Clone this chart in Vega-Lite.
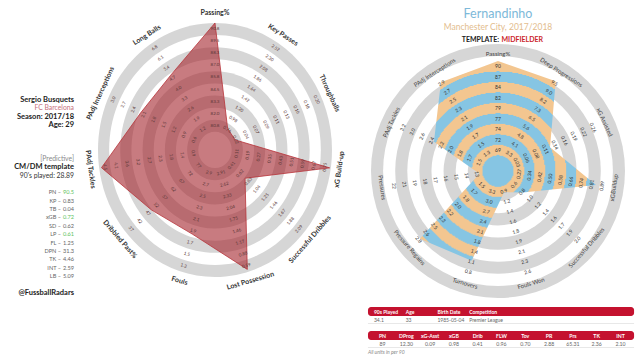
{
  "$schema": "https://vega.github.io/schema/vega-lite/v6.json",
  "background": "white",
  "padding": 0,
  "spacing": 0,
  "bounds": "flush",
  "config": {"view": {"stroke": null}, "font": "Lato"},
  "datasets": {
    "info": [
      {"ln": 0, "t": "Sergio Busquets", "kind": "head"},
      {"ln": 1, "t": "FC Barcelona", "kind": "club"},
      {"ln": 2, "t": "Season: 2017/18", "kind": "head"},
      {"ln": 3, "t": "Age: 29", "kind": "head"},
      {"ln": 7, "t": "[Predictive]", "kind": "note"},
      {"ln": 8, "t": "CM/DM template", "kind": "head"},
      {"ln": 9, "t": "90's played: 28.89", "kind": "text"},
      {"ln": 23, "t": "@FussballRadars", "kind": "head"}
    ],
    "stats": [
      {"ln": 11, "lab": "PN –", "val": "90.5", "hi": "y"},
      {"ln": 12, "lab": "KP –", "val": "0.83", "hi": "n"},
      {"ln": 13, "lab": "TB –", "val": "0.04", "hi": "n"},
      {"ln": 14, "lab": "xGB –", "val": "0.72", "hi": "y"},
      {"ln": 15, "lab": "SD –", "val": "0.62", "hi": "n"},
      {"ln": 16, "lab": "LP –", "val": "0.61", "hi": "y"},
      {"ln": 17, "lab": "FL –", "val": "1.25", "hi": "n"},
      {"ln": 18, "lab": "DPN –", "val": "31.3", "hi": "n"},
      {"ln": 19, "lab": "TK –", "val": "4.46", "hi": "n"},
      {"ln": 20, "lab": "INT –", "val": "2.59", "hi": "n"},
      {"ln": 21, "lab": "LB –", "val": "5.09", "hi": "n"}
    ],
    "rings": [{"k": 9}, {"k": 8}, {"k": 7}, {"k": 6}, {"k": 5}, {"k": 4}, {"k": 3}, {"k": 2}, {"k": 1}, {"k": 0}],
    "busq": [
      {"a": 0, "name": "Passing%", "v": 1.0, "ticks": ["80.8","82.0","83.3","84.5","85.8","87.0","88.3","89.5","90.8"]},
      {"a": 1, "name": "Key Passes", "v": 0.2, "ticks": ["0.76","0.98","1.20","1.42","1.64","1.86","2.08","2.30","2.52"]},
      {"a": 2, "name": "Throughballs", "v": 0.19, "ticks": ["0.02","0.04","0.07","0.09","0.11","0.13","0.16","0.18","0.20"]},
      {"a": 3, "name": "xG Build-up", "v": 0.99, "ticks": ["0.11","0.19","0.27","0.35","0.43","0.51","0.59","0.67","0.75"]},
      {"a": 4, "name": "Successful Dribbles", "v": 0.34, "ticks": ["0.41","0.62","0.83","1.04","1.25","1.46","1.67","1.88","2.09"]},
      {"a": 5, "name": "Lost Possession", "v": 0.98, "ticks": ["2.91","2.62","2.33","2.04","1.75","1.46","1.17","0.88","0.59"]},
      {"a": 6, "name": "Fouls", "v": 0.69, "ticks": ["2.9","2.7","2.5","2.3","2.1","1.9","1.7","1.5","1.3"]},
      {"a": 7, "name": "Dribbled Past%", "v": 0.72, "ticks": ["77","72","67","62","57","52","47","42","37"]},
      {"a": 8, "name": "PAdj Tackles", "v": 0.98, "ticks": ["0.9","1.4","1.8","2.3","2.7","3.2","3.6","4.1","4.5"]},
      {"a": 9, "name": "PAdj Interceptions", "v": 0.7, "ticks": ["0.6","0.9","1.2","1.5","1.8","2.1","2.4","2.7","3.0"]},
      {"a": 10, "name": "Long Balls", "v": 0.7, "ticks": ["1.2","1.9","2.6","3.3","4.0","4.7","5.4","6.1","6.8"]}
    ],
    "fern": [
      {"a": 0, "name": "Passing%", "v": 1.0, "ticks": ["69","72","74","77","79","82","84","87","90"]},
      {"a": 1, "name": "Deep Progressions", "v": 0.97, "ticks": ["3.3","4.1","4.8","5.6","6.5","7.3","8.2","9.0","9.5"]},
      {"a": 2, "name": "xG Assisted", "v": 0.52, "ticks": ["0.03","0.06","0.08","0.11","0.14","0.16","0.19","0.22","0.26"]},
      {"a": 3, "name": "xGBuildup", "v": 0.9, "ticks": ["0.27","0.34","0.42","0.50","0.58","0.66","0.74","0.81","0.89"]},
      {"a": 4, "name": "Successful Dribbles", "v": 0.3, "ticks": ["0.6","0.8","1.0","1.2","1.4","1.6","1.7","1.9","2.0"]},
      {"a": 5, "name": "Fouls Won", "v": 0.2, "ticks": ["0.9","1.2","1.4","1.6","1.8","1.9","2.1","2.3","2.6"]},
      {"a": 6, "name": "Turnovers", "v": 0.85, "ticks": ["3.3","3.0","2.7","2.4","2.1","1.8","1.4","1.1","0.8"]},
      {"a": 7, "name": "Pressure Regains", "v": 0.94, "ticks": ["1.5","1.7","1.8","2.0","2.2","2.3","2.5","2.6","2.8"]},
      {"a": 8, "name": "Pressures", "v": 0.17, "ticks": ["13","14","15","16","17","18","19","21","22"]},
      {"a": 9, "name": "PAdj Tackles", "v": 0.64, "ticks": ["1.5","1.7","1.8","2.0","2.2","2.4","2.6","3.0","3.2"]},
      {"a": 10, "name": "PAdj Interceptions", "v": 0.96, "ticks": ["1.3","1.5","1.7","1.9","2.1","2.3","2.5","2.7","2.9"]}
    ],
    "titles": [
      {"ln": 0, "t": "Fernandinho", "p": "name"},
      {"ln": 1, "t": "Manchester City, 2017/2018", "p": "club"},
      {"ln": 2, "t": "TEMPLATE:", "p": "tl"},
      {"ln": 2, "t": "MIDFIELDER", "p": "tr"}
    ],
    "t1": [
      {"c": 0, "h": "90s Played", "v": "34.1"},
      {"c": 1, "h": "Age", "v": "33"},
      {"c": 2, "h": "Birth Date", "v": "1985-05-04"},
      {"c": 3, "h": "Competition", "v": "Premier League"}
    ],
    "t2": [
      {"c": 0, "h": "PN", "v": "89"},
      {"c": 1, "h": "DProg", "v": "12.30"},
      {"c": 2, "h": "xG-Asst", "v": "0.09"},
      {"c": 3, "h": "xGB", "v": "0.98"},
      {"c": 4, "h": "Drib", "v": "0.41"},
      {"c": 5, "h": "FLW", "v": "0.96"},
      {"c": 6, "h": "Tov", "v": "0.70"},
      {"c": 7, "h": "PR", "v": "2.88"},
      {"c": 8, "h": "Prs", "v": "65.31"},
      {"c": 9, "h": "TK", "v": "2.36"},
      {"c": 10, "h": "INT", "v": "2.10"}
    ],
    "tbars": [{"slot": 0}, {"slot": 3}],
    "tlines": [{"after": 1}, {"after": 4}],
    "foot": [{"t": "All units in per 90"}]
  },
  "hconcat": [
    {
      "width": 74,
      "height": 359,
      "resolve": {"scale": {"color": "independent"}},
      "layer": [
        {
          "data": {"name": "info"},
          "transform": [{"filter": "datum.kind == 'head'"}],
          "mark": {"type": "text", "align": "right", "baseline": "middle", "fontWeight": "bold", "fontSize": 7.5, "color": "#222222"},
          "encoding": {
            "x": {"value": "width"},
            "y": {"field": "ln", "type": "quantitative", "scale": {"domain": [-11.92, 30.87], "reverse": true, "nice": false, "zero": false}, "axis": null},
            "text": {"field": "t"}
          }
        },
        {
          "data": {"name": "info"},
          "transform": [{"filter": "datum.kind != 'head'"}],
          "mark": {"type": "text", "align": "right", "baseline": "middle", "fontSize": 6.8},
          "encoding": {
            "x": {"value": "width"},
            "y": {"field": "ln", "type": "quantitative", "scale": {"domain": [-11.92, 30.87], "reverse": true, "nice": false, "zero": false}, "axis": null},
            "text": {"field": "t"},
            "color": {"field": "kind", "type": "nominal", "scale": {"domain": ["club", "note", "text"], "range": ["#c7707c", "#8a8a8a", "#333333"]}, "legend": null}
          }
        },
        {
          "data": {"name": "stats"},
          "mark": {"type": "text", "align": "right", "baseline": "middle", "fontSize": 5.6, "dx": -13, "color": "#666666"},
          "encoding": {
            "x": {"value": "width"},
            "y": {"field": "ln", "type": "quantitative", "scale": {"domain": [-11.92, 30.87], "reverse": true, "nice": false, "zero": false}, "axis": null},
            "text": {"field": "lab"}
          }
        },
        {
          "data": {"name": "stats"},
          "mark": {"type": "text", "align": "right", "baseline": "middle", "fontSize": 5.6},
          "encoding": {
            "x": {"value": "width"},
            "y": {"field": "ln", "type": "quantitative", "scale": {"domain": [-11.92, 30.87], "reverse": true, "nice": false, "zero": false}, "axis": null},
            "text": {"field": "val"},
            "color": {"field": "hi", "type": "nominal", "scale": {"domain": ["y", "n"], "range": ["#5cc35c", "#666666"]}, "legend": null}
          }
        }
      ]
    },
    {
      "width": 258,
      "height": 359,
      "layer": [
        {
          "data": {"name": "rings"},
          "transform": [
            {"calculate": "(1.5 + datum.k) / 10.5", "as": "rr"},
            {"calculate": "datum.k % 2 == 1 ? 'g' : 'w'", "as": "band"}
          ],
          "mark": {"type": "point", "filled": true, "opacity": 1, "strokeWidth": 0, "shape": "M0,-1C0.5088,-1,0.9213,-0.5523,0.9213,0C0.9213,0.5523,0.5088,1,0,1C-0.5088,1,-0.9213,0.5523,-0.9213,0C-0.9213,-0.5523,-0.5088,-1,0,-1Z"},
          "encoding": {
            "x": {"datum": 0, "type": "quantitative", "scale": {"domain": [-1.205, 1], "nice": false, "zero": false}, "axis": null},
            "y": {"datum": 0, "type": "quantitative", "scale": {"domain": [-1.646, 1.181], "nice": false, "zero": false}, "axis": null},
            "size": {"field": "rr", "type": "quantitative", "scale": {"type": "pow", "exponent": 2, "domain": [0, 1], "range": [0, 64516]}, "legend": null},
            "color": {"field": "band", "type": "nominal", "scale": {"domain": ["g", "w"], "range": ["#d6d6d6", "#ffffff"]}, "legend": null},
            "order": {"field": "k", "type": "quantitative", "sort": "descending"}
          }
        },
        {
          "data": {"name": "busq"},
          "transform": [
            {"calculate": "datum.a * 2 * PI / 11", "as": "th"},
            {"calculate": "datum.v * sin(datum.th)", "as": "px"},
            {"calculate": "datum.v * cos(datum.th)", "as": "py"}
          ],
          "mark": {"type": "line", "interpolate": "linear-closed", "fill": "#a3232b", "fillOpacity": 0.6, "stroke": "#b8343a", "strokeWidth": 0.8},
          "encoding": {
            "x": {"field": "px", "type": "quantitative", "scale": {"domain": [-1.205, 1], "nice": false, "zero": false}, "axis": null},
            "y": {"field": "py", "type": "quantitative", "scale": {"domain": [-1.646, 1.181], "nice": false, "zero": false}, "axis": null},
            "order": {"field": "a", "type": "quantitative"}
          }
        },
        {
          "data": {"name": "busq"},
          "transform": [
            {"flatten": ["ticks"], "as": ["tk"]},
            {"window": [{"op": "row_number", "as": "k"}], "groupby": ["a"]},
            {"calculate": "datum.a * 2 * PI / 11", "as": "th"},
            {"calculate": "(datum.k + 1) / 10.5", "as": "r"},
            {"calculate": "datum.r * sin(datum.th)", "as": "tx"},
            {"calculate": "datum.r * cos(datum.th)", "as": "ty"},
            {"calculate": "datum.a * 360 / 11", "as": "deg"},
            {"calculate": "datum.deg <= 90 ? datum.deg : (datum.deg < 270 ? datum.deg - 180 : datum.deg - 360)", "as": "ang"}
          ],
          "mark": {"type": "text", "fontSize": 4.5, "color": "#5a3636", "baseline": "middle", "align": "center"},
          "encoding": {
            "x": {"field": "tx", "type": "quantitative", "scale": {"domain": [-1.205, 1], "nice": false, "zero": false}, "axis": null},
            "y": {"field": "ty", "type": "quantitative", "scale": {"domain": [-1.646, 1.181], "nice": false, "zero": false}, "axis": null},
            "text": {"field": "tk"},
            "angle": {"field": "ang", "type": "quantitative", "scale": null}
          }
        },
        {
          "data": {"name": "busq"},
          "transform": [
            {"calculate": "datum.a * 2 * PI / 11", "as": "th"},
            {"calculate": "1.075 * sin(datum.th)", "as": "lx"},
            {"calculate": "1.075 * cos(datum.th)", "as": "ly"},
            {"calculate": "datum.a * 360 / 11", "as": "deg"},
            {"calculate": "datum.deg <= 90 ? datum.deg : (datum.deg < 270 ? datum.deg - 180 : datum.deg - 360)", "as": "ang"}
          ],
          "mark": {"type": "text", "fontSize": 7, "fontWeight": "bold", "color": "#333333", "baseline": "middle", "align": "center"},
          "encoding": {
            "x": {"field": "lx", "type": "quantitative", "scale": {"domain": [-1.205, 1], "nice": false, "zero": false}, "axis": null},
            "y": {"field": "ly", "type": "quantitative", "scale": {"domain": [-1.646, 1.181], "nice": false, "zero": false}, "axis": null},
            "text": {"field": "name"},
            "angle": {"field": "ang", "type": "quantitative", "scale": null}
          }
        }
      ]
    },
    {
      "spacing": 0,
      "bounds": "flush",
      "vconcat": [
        {
          "width": 308,
          "height": 54,
          "layer": [
            {
              "data": {"name": "titles"},
              "transform": [{"filter": "datum.p == 'name'"}],
              "mark": {"type": "text", "fontSize": 12.5, "color": "#7db9d9", "baseline": "middle", "align": "center"},
              "encoding": {
                "x": {"datum": 0, "type": "quantitative", "scale": {"domain": [-1.50909, 1.29091], "nice": false, "zero": false}, "axis": null},
                "y": {"field": "ln", "type": "quantitative", "scale": {"domain": [-1.077, 3.077], "reverse": true, "nice": false, "zero": false}, "axis": null},
                "text": {"field": "t"}
              }
            },
            {
              "data": {"name": "titles"},
              "transform": [{"filter": "datum.p == 'club'"}],
              "mark": {"type": "text", "fontSize": 8.5, "color": "#e3bd8e", "baseline": "middle", "align": "center"},
              "encoding": {
                "x": {"datum": 0, "type": "quantitative", "scale": {"domain": [-1.50909, 1.29091], "nice": false, "zero": false}, "axis": null},
                "y": {"field": "ln", "type": "quantitative", "scale": {"domain": [-1.077, 3.077], "reverse": true, "nice": false, "zero": false}, "axis": null},
                "text": {"field": "t"}
              }
            },
            {
              "data": {"name": "titles"},
              "transform": [{"filter": "datum.p == 'tl'"}],
              "mark": {"type": "text", "fontSize": 7, "fontWeight": "bold", "color": "#222222", "baseline": "middle", "align": "right", "dx": 1},
              "encoding": {
                "x": {"datum": 0, "type": "quantitative", "scale": {"domain": [-1.50909, 1.29091], "nice": false, "zero": false}, "axis": null},
                "y": {"field": "ln", "type": "quantitative", "scale": {"domain": [-1.077, 3.077], "reverse": true, "nice": false, "zero": false}, "axis": null},
                "text": {"field": "t"}
              }
            },
            {
              "data": {"name": "titles"},
              "transform": [{"filter": "datum.p == 'tr'"}],
              "mark": {"type": "text", "fontSize": 7, "fontWeight": "bold", "color": "#cc1f2d", "baseline": "middle", "align": "left", "dx": 3.5},
              "encoding": {
                "x": {"datum": 0, "type": "quantitative", "scale": {"domain": [-1.50909, 1.29091], "nice": false, "zero": false}, "axis": null},
                "y": {"field": "ln", "type": "quantitative", "scale": {"domain": [-1.077, 3.077], "reverse": true, "nice": false, "zero": false}, "axis": null},
                "text": {"field": "t"}
              }
            }
          ]
        },
        {
          "width": 308,
          "height": 246,
          "layer": [
            {
              "data": {"name": "rings"},
              "transform": [
                {"calculate": "(1.5 + datum.k) / 10.5", "as": "rr"},
                {"calculate": "datum.k % 2 == 1 ? 'g' : 'w'", "as": "band"}
              ],
              "mark": {"type": "point", "filled": true, "opacity": 1, "strokeWidth": 0, "shape": "circle"},
              "encoding": {
                "x": {"datum": 0, "type": "quantitative", "scale": {"domain": [-1.50909, 1.29091], "nice": false, "zero": false}, "axis": null},
                "y": {"datum": 0, "type": "quantitative", "scale": {"domain": [-1.17273, 1.06364], "nice": false, "zero": false}, "axis": null},
                "size": {"field": "rr", "type": "quantitative", "scale": {"type": "pow", "exponent": 2, "domain": [0, 1], "range": [0, 48400]}, "legend": null},
                "color": {"field": "band", "type": "nominal", "scale": {"domain": ["g", "w"], "range": ["#dcdcdc", "#ffffff"]}, "legend": null},
                "order": {"field": "k", "type": "quantitative", "sort": "descending"}
              }
            },
            {
              "data": {"name": "fern"},
              "transform": [
                {"calculate": "datum.a * 2 * PI / 11", "as": "th"},
                {"calculate": "datum.v * sin(datum.th)", "as": "px"},
                {"calculate": "datum.v * cos(datum.th)", "as": "py"}
              ],
              "mark": {
                "type": "line",
                "interpolate": "linear-closed",
                "strokeWidth": 0,
                "fill": {
                  "gradient": "radial",
                  "x1": 0.4503, "y1": 0.5508, "r1": 0,
                  "x2": 0.4503, "y2": 0.5508, "r2": 0.5508,
                  "stops": [
                    {"offset": 0, "color": "#86c5e3"},
                    {"offset": 0.1429, "color": "#86c5e3"},
                    {"offset": 0.1429, "color": "#f3c690"},
                    {"offset": 0.2381, "color": "#f3c690"},
                    {"offset": 0.2381, "color": "#86c5e3"},
                    {"offset": 0.3333, "color": "#86c5e3"},
                    {"offset": 0.3333, "color": "#f3c690"},
                    {"offset": 0.4286, "color": "#f3c690"},
                    {"offset": 0.4286, "color": "#86c5e3"},
                    {"offset": 0.5238, "color": "#86c5e3"},
                    {"offset": 0.5238, "color": "#f3c690"},
                    {"offset": 0.619, "color": "#f3c690"},
                    {"offset": 0.619, "color": "#86c5e3"},
                    {"offset": 0.7143, "color": "#86c5e3"},
                    {"offset": 0.7143, "color": "#f3c690"},
                    {"offset": 0.8095, "color": "#f3c690"},
                    {"offset": 0.8095, "color": "#86c5e3"},
                    {"offset": 0.9048, "color": "#86c5e3"},
                    {"offset": 0.9048, "color": "#f3c690"},
                    {"offset": 1, "color": "#f3c690"}
                  ]
                }
              },
              "encoding": {
                "x": {"field": "px", "type": "quantitative", "scale": {"domain": [-1.50909, 1.29091], "nice": false, "zero": false}, "axis": null},
                "y": {"field": "py", "type": "quantitative", "scale": {"domain": [-1.17273, 1.06364], "nice": false, "zero": false}, "axis": null},
                "order": {"field": "a", "type": "quantitative"}
              }
            },
            {
              "data": {"name": "fern"},
              "transform": [
                {"flatten": ["ticks"], "as": ["tk"]},
                {"window": [{"op": "row_number", "as": "k"}], "groupby": ["a"]},
                {"calculate": "datum.a * 2 * PI / 11", "as": "th"},
                {"calculate": "(datum.k + 1) / 10.5", "as": "r"},
                {"calculate": "datum.r * sin(datum.th)", "as": "tx"},
                {"calculate": "datum.r * cos(datum.th)", "as": "ty"},
                {"calculate": "datum.a * 360 / 11", "as": "deg"},
                {"calculate": "datum.deg <= 90 ? datum.deg : (datum.deg < 270 ? datum.deg - 180 : datum.deg - 360)", "as": "ang"}
              ],
              "mark": {"type": "text", "fontSize": 5, "color": "#333333", "baseline": "middle", "align": "center"},
              "encoding": {
                "x": {"field": "tx", "type": "quantitative", "scale": {"domain": [-1.50909, 1.29091], "nice": false, "zero": false}, "axis": null},
                "y": {"field": "ty", "type": "quantitative", "scale": {"domain": [-1.17273, 1.06364], "nice": false, "zero": false}, "axis": null},
                "text": {"field": "tk"},
                "angle": {"field": "ang", "type": "quantitative", "scale": null}
              }
            },
            {
              "data": {"name": "fern"},
              "transform": [
                {"calculate": "datum.a * 2 * PI / 11", "as": "th"},
                {"calculate": "1.065 * sin(datum.th)", "as": "lx"},
                {"calculate": "1.065 * cos(datum.th)", "as": "ly"},
                {"calculate": "datum.a * 360 / 11", "as": "deg"},
                {"calculate": "datum.deg <= 90 ? datum.deg : (datum.deg < 270 ? datum.deg - 180 : datum.deg - 360)", "as": "ang"}
              ],
              "mark": {"type": "text", "fontSize": 6, "color": "#444444", "baseline": "middle", "align": "center"},
              "encoding": {
                "x": {"field": "lx", "type": "quantitative", "scale": {"domain": [-1.50909, 1.29091], "nice": false, "zero": false}, "axis": null},
                "y": {"field": "ly", "type": "quantitative", "scale": {"domain": [-1.17273, 1.06364], "nice": false, "zero": false}, "axis": null},
                "text": {"field": "name"},
                "angle": {"field": "ang", "type": "quantitative", "scale": null}
              }
            }
          ]
        },
        {
          "width": 308,
          "height": 59,
          "resolve": {"scale": {"x": "independent"}},
          "layer": [
            {
              "data": {"name": "tbars"},
              "transform": [
                {"calculate": "datum.slot - 0.56", "as": "ya"},
                {"calculate": "datum.slot + 0.56", "as": "yb"}
              ],
              "mark": {"type": "rect", "color": "#c4122f", "cornerRadius": 3},
              "encoding": {
                "x": {"datum": -0.61, "type": "quantitative", "scale": {"domain": [-2.1218, 10.8193], "nice": false, "zero": false}, "axis": null},
                "x2": {"datum": 10.57},
                "y": {"field": "ya", "type": "quantitative", "scale": {"domain": [-1.4375, 5.9375], "reverse": true, "nice": false, "zero": false}, "axis": null},
                "y2": {"field": "yb"}
              }
            },
            {
              "data": {"name": "tlines"},
              "transform": [{"calculate": "datum.after + 0.5", "as": "yl"}],
              "mark": {"type": "rule", "color": "#e2e2e2", "strokeWidth": 0.8},
              "encoding": {
                "x": {"datum": -0.61, "type": "quantitative", "scale": {"domain": [-2.1218, 10.8193], "nice": false, "zero": false}, "axis": null},
                "x2": {"datum": 10.57},
                "y": {"field": "yl", "type": "quantitative", "scale": {"domain": [-1.4375, 5.9375], "reverse": true, "nice": false, "zero": false}, "axis": null}
              }
            },
            {
              "data": {"name": "t2"},
              "mark": {"type": "text", "fontSize": 5.2, "fontWeight": "bold", "color": "#ffffff", "baseline": "middle", "align": "center"},
              "encoding": {
                "x": {"field": "c", "type": "quantitative", "scale": {"domain": [-2.1218, 10.8193], "nice": false, "zero": false}, "axis": null},
                "y": {"datum": 3, "type": "quantitative", "scale": {"domain": [-1.4375, 5.9375], "reverse": true, "nice": false, "zero": false}, "axis": null},
                "text": {"field": "h"}
              }
            },
            {
              "data": {"name": "t2"},
              "mark": {"type": "text", "fontSize": 5.2, "color": "#666666", "baseline": "middle", "align": "center"},
              "encoding": {
                "x": {"field": "c", "type": "quantitative", "scale": {"domain": [-2.1218, 10.8193], "nice": false, "zero": false}, "axis": null},
                "y": {"datum": 4, "type": "quantitative", "scale": {"domain": [-1.4375, 5.9375], "reverse": true, "nice": false, "zero": false}, "axis": null},
                "text": {"field": "v"}
              }
            },
            {
              "data": {"name": "t1"},
              "mark": {"type": "text", "fontSize": 5, "fontWeight": "bold", "color": "#ffffff", "baseline": "middle", "align": "left"},
              "encoding": {
                "x": {"field": "c", "type": "quantitative", "scale": {"domain": [-1.32, 8.38], "nice": false, "zero": false}, "axis": null},
                "y": {"datum": 0, "type": "quantitative", "scale": {"domain": [-1.4375, 5.9375], "reverse": true, "nice": false, "zero": false}, "axis": null},
                "text": {"field": "h"}
              }
            },
            {
              "data": {"name": "t1"},
              "mark": {"type": "text", "fontSize": 5, "color": "#666666", "baseline": "middle", "align": "left"},
              "encoding": {
                "x": {"field": "c", "type": "quantitative", "scale": {"domain": [-1.32, 8.38], "nice": false, "zero": false}, "axis": null},
                "y": {"datum": 1, "type": "quantitative", "scale": {"domain": [-1.4375, 5.9375], "reverse": true, "nice": false, "zero": false}, "axis": null},
                "text": {"field": "v"}
              }
            },
            {
              "data": {"name": "foot"},
              "mark": {"type": "text", "fontSize": 5, "fontStyle": "italic", "color": "#888888", "baseline": "middle", "align": "left"},
              "encoding": {
                "x": {"datum": -0.61, "type": "quantitative", "scale": {"domain": [-2.1218, 10.8193], "nice": false, "zero": false}, "axis": null},
                "y": {"datum": 5, "type": "quantitative", "scale": {"domain": [-1.4375, 5.9375], "reverse": true, "nice": false, "zero": false}, "axis": null},
                "text": {"field": "t"}
              }
            }
          ]
        }
      ]
    }
  ]
}
